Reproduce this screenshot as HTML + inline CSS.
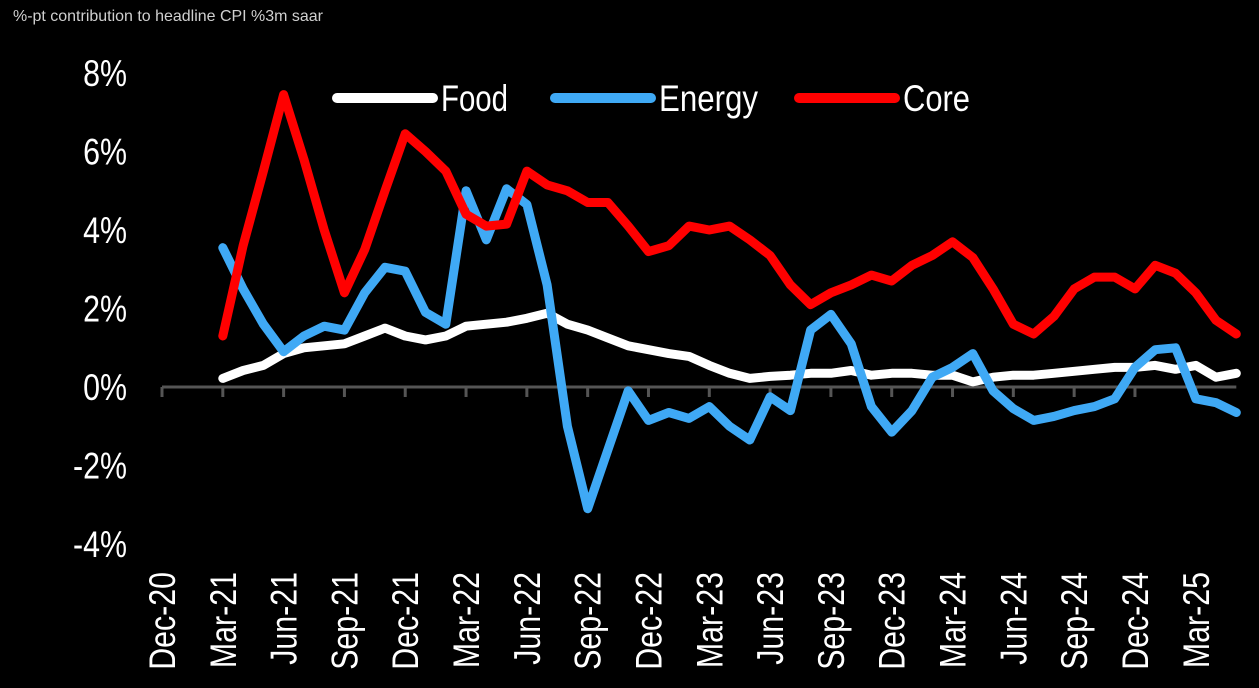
<!DOCTYPE html>
<html><head><meta charset="utf-8">
<style>
html,body{margin:0;padding:0;background:#000;}
svg{display:block;}
text{font-family:"Liberation Sans Narrow","Liberation Sans",sans-serif;fill:#fff;}
</style></head>
<body>
<svg id="chart" width="1259" height="688" viewBox="0 0 1259 688">
<rect width="1259" height="688" fill="#000"/>
<text x="13" y="21" font-size="16" fill="#d0d0d0" style="fill:#d0d0d0" textLength="310" lengthAdjust="spacingAndGlyphs">%-pt contribution to headline CPI %3m saar</text>
<g id="yaxis"></g>
<g id="xaxis"></g>
<g id="series"></g>
<g id="legend"></g>
</svg>
<script>
const yTicks = [8, 6, 4, 2, 0, -2, -4];
const xTickLabels = ["Dec-20","Mar-21","Jun-21","Sep-21","Dec-21","Mar-22","Jun-22","Sep-22","Dec-22","Mar-23","Jun-23","Sep-23","Dec-23","Mar-24","Jun-24","Sep-24","Dec-24","Mar-25"];
const seriesNames = ["Food","Energy","Core"];
const food = [0.22,0.42,0.55,0.85,1.0,1.05,1.1,1.3,1.5,1.3,1.2,1.3,1.55,1.6,1.65,1.75,1.88,1.6,1.45,1.25,1.05,0.95,0.85,0.78,0.55,0.35,0.22,0.27,0.3,0.35,0.35,0.42,0.3,0.35,0.35,0.3,0.3,0.13,0.25,0.3,0.3,0.35,0.4,0.45,0.5,0.5,0.55,0.45,0.55,0.25,0.35];
const energy = [3.55,2.5,1.6,0.9,1.3,1.55,1.45,2.4,3.05,2.95,1.9,1.6,5.0,3.75,5.05,4.65,2.6,-1.0,-3.1,-1.6,-0.1,-0.85,-0.65,-0.8,-0.5,-1.0,-1.35,-0.25,-0.6,1.45,1.85,1.1,-0.5,-1.15,-0.6,0.25,0.5,0.85,-0.1,-0.55,-0.85,-0.75,-0.6,-0.5,-0.3,0.5,0.95,1.0,-0.3,-0.4,-0.65];
const core = [1.3,3.6,5.5,7.45,5.8,4.0,2.4,3.5,5.0,6.45,6.0,5.5,4.4,4.1,4.15,5.5,5.15,5.0,4.7,4.7,4.1,3.45,3.6,4.1,4.0,4.1,3.75,3.35,2.6,2.1,2.4,2.6,2.85,2.7,3.1,3.35,3.7,3.3,2.5,1.6,1.35,1.8,2.5,2.8,2.8,2.5,3.1,2.9,2.4,1.7,1.35];

const NS = "http://www.w3.org/2000/svg";
const X0 = 162, MONTH = 20.27, FIRST = 3;
const Y0 = 387, PER = 39.25;
function xScale(m){ return X0 + m * MONTH; }
function yScale(v){ return Y0 - v * PER; }
function mk(tag, attrs){ const e = document.createElementNS(NS, tag); for (const k in attrs) e.setAttribute(k, attrs[k]); return e; }
function narrow(t){ try { const w = t.getComputedTextLength(); if (w > 0) { t.setAttribute('textLength', (w*0.82).toFixed(1)); t.setAttribute('lengthAdjust','spacingAndGlyphs'); } } catch(e){} }

const yaxis = document.getElementById('yaxis');
yTicks.forEach(v => {
  const t = mk('text', {x:127, y:yScale(v)+13, 'font-size':37, 'text-anchor':'end'});
  t.textContent = v + '%';
  
  
  yaxis.appendChild(t);
  narrow(t);
});

const xaxis = document.getElementById('xaxis');
const lastM = FIRST + core.length - 1;
const axisLine = mk('line', {x1:X0, x2:xScale(lastM), y1:Y0, y2:Y0, stroke:'#555', 'stroke-width':3});


xaxis.appendChild(axisLine);
xTickLabels.forEach((lab, i) => {
  const x = xScale(i*3);
  const tk = mk('line', {x1:x, x2:x, y1:Y0, y2:Y0+10, stroke:'#555', 'stroke-width':3});
  
  
  xaxis.appendChild(tk);
  const t = mk('text', {x:0, y:0, 'font-size':37, 'text-anchor':'end', transform:`translate(${x+13},572) rotate(-90)`});
  t.textContent = lab;
  
  
  xaxis.appendChild(t);
  narrow(t);
});

const series = document.getElementById('series');
const colors = {Food:'#ffffff', Energy:'#3fa9f5', Core:'#ff0000'};
const data = {Food:food, Energy:energy, Core:core};
["Food","Energy","Core"].forEach(name => {
  const vals = data[name];
  const pts = vals.map((v,i) => xScale(FIRST+i).toFixed(1) + ',' + yScale(v).toFixed(1)).join(' ');
  const pl = mk('polyline', {points:pts, fill:'none', stroke:colors[name], 'stroke-width':9, 'stroke-linejoin':'round', 'stroke-linecap':'round'});
  
  
  series.appendChild(pl);
});

const legend = document.getElementById('legend');
const legX = [337, 555, 799];
const legW = [67, 99, 67];
seriesNames.forEach((name, i) => {
  const ln = mk('line', {x1:legX[i], x2:legX[i]+96, y1:98, y2:98, stroke:colors[name], 'stroke-width':10, 'stroke-linecap':'round'});
  
  
  legend.appendChild(ln);
  const t = mk('text', {x:legX[i]+104, y:111, 'font-size':37, textLength:legW[i], lengthAdjust:'spacingAndGlyphs'});
  t.textContent = name;
  
  
  legend.appendChild(t);
});
</script>
</body></html>
